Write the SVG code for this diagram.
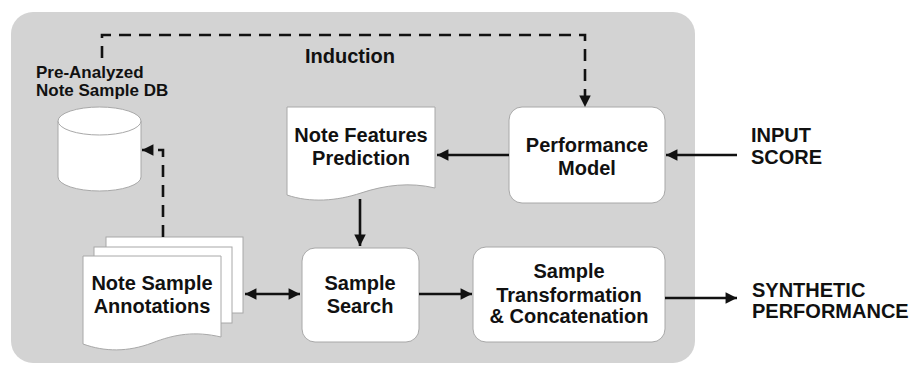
<svg xmlns="http://www.w3.org/2000/svg" width="911" height="365" viewBox="0 0 911 365">
<defs>
<marker id="ah" viewBox="0 0 10 10" refX="10" refY="5" markerWidth="5.8" markerHeight="4.4" orient="auto-start-reverse" markerUnits="strokeWidth">
<path d="M0,0 L10,5 L0,10 Z" fill="#111"/>
</marker>
</defs>
<style>
text{font-family:"Liberation Sans",Arial,sans-serif;font-weight:bold;fill:#111;}
.lbl{font-size:20px;text-anchor:middle;}
.ext{font-size:20px;}
.sm{font-size:17px;}
.box{fill:#fff;stroke:#a8a8a8;stroke-width:1;}
.ln{fill:none;stroke:#111;stroke-width:2.6;}
.dash{fill:none;stroke:#111;stroke-width:2.6;stroke-dasharray:12 8;}
</style>
<rect x="11" y="12" width="684" height="351" rx="22" fill="#d3d3d3"/>
<text x="305" y="63" class="ext">Induction</text>

<g id="db">
<path class="box" d="M58,121 V177 A41.5,14 0 0 0 141,177 V121"/>
<ellipse class="box" cx="99.5" cy="121" rx="41.5" ry="14"/>
<text x="36" y="78" class="sm">Pre-Analyzed</text>
<text x="36" y="96" class="sm">Note Sample DB</text>
</g>

<g id="annotations">
<rect class="box" x="106" y="237" width="137" height="76"/>
<rect class="box" x="94" y="247" width="138" height="76"/>
<path class="box" d="M83,256 H221 V337 C195,331 175,334 152,343 C128,352 105,352 83,344 Z"/>
<text x="152" y="290" class="lbl">Note Sample</text>
<text x="152" y="313" class="lbl">Annotations</text>
</g>

<g id="prediction">
<path class="box" d="M287,107 H435 V188 C410,182 385,185 361,193 C337,201 310,203 287,195 Z"/>
<text x="361" y="142" class="lbl">Note Features</text>
<text x="361" y="165" class="lbl">Prediction</text>
</g>

<g id="perfmodel">
<rect class="box" x="509" y="107" width="156" height="96" rx="13"/>
<text x="587" y="152" class="lbl">Performance</text>
<text x="587" y="175" class="lbl">Model</text>
</g>

<g id="search">
<rect class="box" x="302" y="248" width="117" height="94" rx="13"/>
<text x="360" y="290" class="lbl">Sample</text>
<text x="360" y="313" class="lbl">Search</text>
</g>

<g id="transform">
<rect class="box" x="473" y="247" width="192" height="95" rx="13"/>
<text x="569" y="278" class="lbl">Sample</text>
<text x="569" y="302" class="lbl">Transformation</text>
<text x="569" y="323" class="lbl">&amp; Concatenation</text>
</g>

<g id="input">
<text x="751" y="142" class="ext">INPUT</text>
<text x="751" y="164" class="ext">SCORE</text>
</g>

<g id="output">
<text x="752" y="297" class="ext">SYNTHETIC</text>
<text x="752" y="318" class="ext">PERFORMANCE</text>
</g>

<g id="connectors">
<path class="dash" d="M102,58 V35 H585 V107" marker-end="url(#ah)"/>
<path class="dash" d="M163,237 V150 H142" marker-end="url(#ah)"/>
<path class="ln" d="M737,155 H666" marker-end="url(#ah)"/>
<path class="ln" d="M509,155 H437" marker-end="url(#ah)"/>
<path class="ln" d="M360,199 V246" marker-end="url(#ah)"/>
<path class="ln" d="M245,294 H300" marker-start="url(#ah)" marker-end="url(#ah)"/>
<path class="ln" d="M419,294 H472" marker-end="url(#ah)"/>
<path class="ln" d="M665,298 H737" marker-end="url(#ah)"/>
</g>
</svg>
